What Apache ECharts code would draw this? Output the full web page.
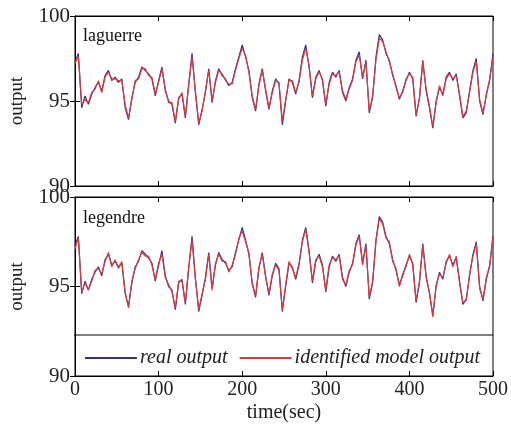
<!DOCTYPE html>
<html><head><meta charset="utf-8">
<script src="https://cdn.jsdelivr.net/npm/echarts@6/dist/echarts.min.js"></script>
<style>html,body{margin:0;padding:0;background:#fff}#c{width:511px;height:430px}</style>
</head><body><div id="c"></div>
<script>
// time step of the sampled traces (seconds)
const timeStep = 4;
const xTicks = [0, 100, 200, 300, 400, 500];
const yTicks = [90, 95, 100];
const panelNames = ['laguerre', 'legendre'];
const seriesNames = ['real output', 'identified model output'];

const realOutput = [
97.3,97.8,94.6,95.3,94.8,95.4,95.8,96.1,95.6,96.5,96.8,96.2,96.4,96.1,96.3,94.6,93.9,95.2,96.1,96.4,
97.0,96.8,96.6,96.3,95.3,96.2,97.0,95.6,95.0,94.8,93.7,95.2,95.4,94.0,96.0,97.8,95.5,93.6,94.5,95.5,
96.9,94.9,96.2,96.9,96.5,96.3,95.9,96.1,96.9,97.6,98.3,97.6,96.8,95.2,94.4,96.0,96.9,95.6,94.5,95.6,
96.3,96.0,93.6,95.0,96.3,96.1,95.4,96.2,97.6,98.3,97.0,95.2,96.4,96.8,96.2,94.7,96.1,96.7,96.4,96.8,
95.5,95.0,95.8,96.3,97.4,97.9,96.3,97.4,94.3,95.2,97.6,98.9,98.6,97.8,97.4,96.5,95.9,95.1,95.6,96.2,
96.7,96.3,94.1,95.2,97.4,95.6,94.6,93.4,95.0,95.8,95.4,96.4,96.7,96.2,96.6,95.3,94.0,94.3,95.6,96.8,
97.5,95.0,94.2,95.4,96.2,97.8];

const laguerreModel = [
97.2,97.6,94.8,95.1,94.9,95.5,95.7,96.2,95.5,96.4,96.7,96.3,96.3,96.2,96.2,94.8,94.0,95.1,96.2,96.3,
96.9,96.9,96.5,96.4,95.4,96.1,96.9,95.7,94.9,94.9,93.8,95.1,95.5,94.1,95.9,97.6,95.6,93.7,94.4,95.6,
96.8,95.0,96.1,96.8,96.6,96.2,96.0,96.0,96.8,97.5,98.1,97.7,96.7,95.3,94.5,95.9,96.8,95.7,94.6,95.5,
96.2,96.1,93.8,95.1,96.2,96.2,95.5,96.1,97.4,98.1,97.1,95.3,96.3,96.7,96.3,94.8,96.0,96.6,96.5,96.7,
95.6,95.1,95.7,96.2,97.3,97.7,96.4,97.3,94.4,95.3,97.4,98.7,98.5,97.9,97.3,96.6,95.8,95.2,95.5,96.3,
96.6,96.4,94.2,95.1,97.3,95.7,94.7,93.5,94.9,95.9,95.3,96.3,96.6,96.3,96.5,95.4,94.1,94.4,95.5,96.7,
97.3,95.1,94.3,95.3,96.3,97.6];

const legendreModel = [
97.1,97.7,94.7,95.2,94.8,95.3,95.9,96.0,95.7,96.4,96.9,96.1,96.5,96.0,96.4,94.7,93.8,95.3,96.0,96.5,
96.9,96.7,96.7,96.2,95.4,96.3,96.8,95.5,95.1,94.7,93.8,95.3,95.3,94.1,96.1,97.6,95.4,93.7,94.6,95.4,
96.8,94.8,96.3,96.8,96.4,96.4,95.8,96.2,96.8,97.7,98.1,97.5,96.9,95.1,94.5,96.1,96.8,95.5,94.6,95.7,
96.2,95.9,93.7,95.1,96.4,96.0,95.5,96.3,97.5,98.2,96.9,95.3,96.5,96.7,96.1,94.8,96.2,96.6,96.5,96.7,
95.4,95.1,95.9,96.2,97.3,97.8,96.2,97.3,94.4,95.3,97.5,98.8,98.5,97.7,97.5,96.4,96.0,95.0,95.7,96.1,
96.8,96.2,94.2,95.3,97.3,95.5,94.7,93.3,95.1,95.7,95.5,96.3,96.8,96.1,96.7,95.2,94.1,94.2,95.7,96.7,
97.4,94.9,94.3,95.5,96.1,97.7];

const toPairs = arr => arr.map((v, i) => [i * timeStep, v]);

const FONT = 'Liberation Serif';
const BLUE = '#30308e';
const RED = '#e03838';
const TXT = '#222';

const grids = [
  {left: 74, top: 16, width: 419, height: 170},
  {left: 74, top: 197, width: 419, height: 179}
];

const xAxes = [], yAxes = [];
grids.forEach((g, gi) => {
  const isBottom = gi === 1;
  xAxes.push({
    type: 'value', gridIndex: gi, min: xTicks[0], max: xTicks[xTicks.length - 1], interval: 100,
    position: 'bottom',
    axisLine: {show: true, lineStyle: {color: '#000', width: 1}},
    axisTick: {show: true, inside: true, length: 5, lineStyle: {color: '#000'}},
    axisLabel: {show: isBottom, color: TXT, fontFamily: FONT, fontSize: 20, margin: 4},
    splitLine: {show: false},
    name: isBottom ? 'time(sec)' : '', nameLocation: 'middle', nameGap: 27,
    nameTextStyle: {color: TXT, fontFamily: FONT, fontSize: 20}
  });
  xAxes.push({
    type: 'value', gridIndex: gi, min: 0, max: 500, interval: 100, position: 'top',
    axisLine: {show: true, lineStyle: {color: '#000', width: 1}},
    axisTick: {show: true, inside: true, length: 5, lineStyle: {color: '#000'}},
    axisLabel: {show: false}, splitLine: {show: false}
  });
  yAxes.push({
    type: 'value', gridIndex: gi, min: yTicks[0], max: yTicks[yTicks.length - 1], interval: 5,
    position: 'left',
    axisLine: {show: true, lineStyle: {color: '#000', width: 1}},
    axisTick: {show: true, inside: true, length: 5, lineStyle: {color: '#000'}},
    axisLabel: {color: TXT, fontFamily: FONT, fontSize: 21, margin: 5},
    splitLine: {show: false},
    name: 'output', nameLocation: 'middle', nameGap: 48, nameRotate: 90,
    nameTextStyle: {color: TXT, fontFamily: FONT, fontSize: 19}
  });
  yAxes.push({
    type: 'value', gridIndex: gi, min: 90, max: 100, interval: 5, position: 'right',
    axisLine: {show: true, lineStyle: {color: '#000', width: 1}},
    axisTick: {show: true, inside: true, length: 5, lineStyle: {color: '#000'}},
    axisLabel: {show: false}, splitLine: {show: false}
  });
});

const mkLine = (name, data, gi, color, z) => ({
  name, type: 'line', xAxisIndex: gi * 2, yAxisIndex: gi * 2,
  data: toPairs(data), symbol: 'none', z,
  lineStyle: {color, width: 1.2}, itemStyle: {color}, animation: false
});

const series = [
  mkLine(seriesNames[0], realOutput, 0, BLUE, 2),
  mkLine(seriesNames[1], laguerreModel, 0, RED, 3),
  mkLine(seriesNames[0], realOutput, 1, BLUE, 2),
  mkLine(seriesNames[1], legendreModel, 1, RED, 3)
];

const chart = echarts.init(document.getElementById('c'), null, {renderer: 'canvas'});
chart.setOption({
  backgroundColor: '#fff',
  animation: false,
  grid: grids.map(g => Object.assign({show: true, borderColor: '#000', borderWidth: 1, backgroundColor: 'transparent'}, g)),
  xAxis: xAxes,
  yAxis: yAxes,
  series,
  legend: {
    left: 79, top: 343, itemWidth: 52, itemHeight: 2, itemGap: 11,
    data: seriesNames,
    textStyle: {color: TXT, fontFamily: FONT, fontSize: 20, fontStyle: 'italic', padding: [0, 0, 0, -2]},
    selectedMode: false
  },
  graphic: [
    {type: 'line', shape: {x1: 74, y1: 335, x2: 493, y2: 335}, style: {stroke: '#000', lineWidth: 1}, z: 10},
    {type: 'text', left: 83, top: 27, style: {text: panelNames[0], fontFamily: FONT, fontSize: 18, fill: '#111'}},
    {type: 'text', left: 83, top: 209, style: {text: panelNames[1], fontFamily: FONT, fontSize: 18, fill: '#111'}}
  ]
});
</script></body></html>
